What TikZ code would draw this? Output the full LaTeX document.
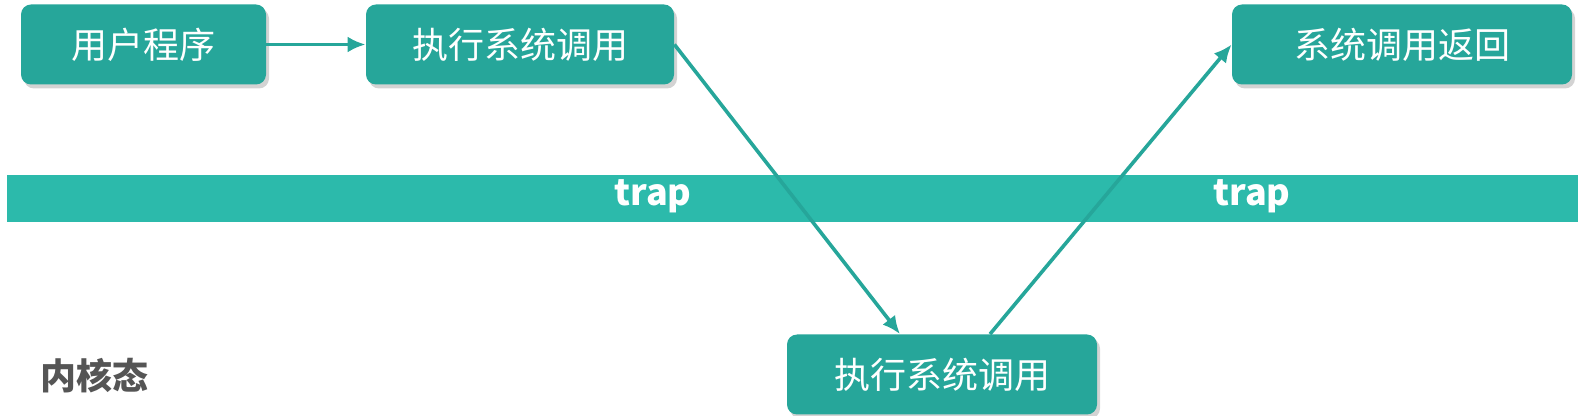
\documentclass[tikz,border=0pt]{standalone}
\usepackage{fontspec}
\setmainfont{Noto Sans CJK SC}
\usetikzlibrary{positioning,shadows,arrows.meta}
\definecolor{boxteal}{RGB}{38,166,154}
\definecolor{bandteal}{RGB}{44,186,171}
\definecolor{labelgray}{RGB}{85,85,85}
\begin{document}
\begin{tikzpicture}[x=0.5pt,y=-0.5pt,
			call node/.style={rectangle,rounded corners=5pt,fill=boxteal,text=white,inner sep=0pt,
				minimum height=40pt,font=\fontsize{18}{20}\selectfont,
				drop shadow={opacity=0.35,shadow xshift=1.5pt,shadow yshift=-2pt}},
			band node/.style={rectangle,fill=bandteal,inner sep=0pt,minimum height=23.5pt,minimum width=785.5pt},
			link/.style={draw=boxteal,line width=1.8pt,-{Latex[length=9pt,width=8pt]}}]
			
			\useasboundingbox (0,0) rectangle (1590,416);
			
			\node[band node] (band) at (792.5,198.5) {};
			\node[text=white,font=\fontsize{18}{20}\selectfont\bfseries] (trapA) at (653,196) {trap};
			\node[text=white,font=\fontsize{18}{20}\selectfont\bfseries] (trapB) at (1252,196) {trap};
			
			\node[call node,minimum width=122.5pt] (user) at (143.5,44.5) {用户程序};
			\node[call node,minimum width=154pt] (callU) at (520,44.5) {执行系统调用};
			\node[call node,minimum width=170pt] (ret) at (1402,44.5) {系统调用返回};
			\node[call node,minimum width=155pt] (callK) at (942,374.5) {执行系统调用};
			
			\node[text=labelgray,font=\fontsize{18}{20}\selectfont\bfseries] (kernel) at (94,376) {内核态};
			
			\path[link]
			(user) -- (callU);
			\path[link]
			(callU.east) -- ([xshift=-21pt]callK.north);
			\path[link]
			([xshift=24pt]callK.north) -- (ret.west);
			\end{tikzpicture}
\end{document}
